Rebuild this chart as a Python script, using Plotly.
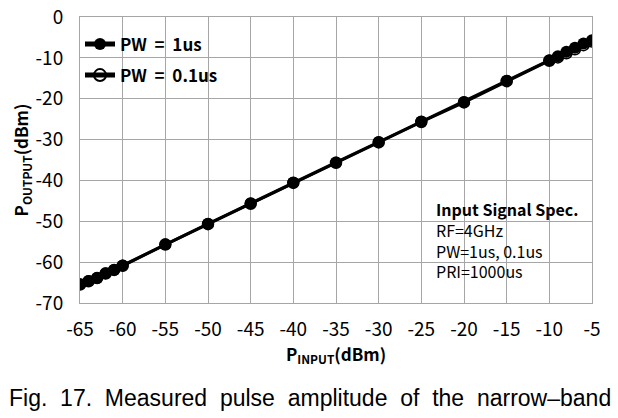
import plotly.graph_objects as go

p_input = [-65, -64, -63, -62, -61, -60, -55, -50, -45, -40, -35, -30, -25, -20, -15, -10, -9, -8, -7, -6, -5]
pout_1us = [-65.4, -64.6, -63.9, -62.7, -61.9, -60.8, -55.6, -50.6, -45.6, -40.5, -35.6, -30.6, -25.6, -20.8, -15.6, -10.6, -9.6, -8.5, -7.5, -6.5, -5.7]
pout_01us = [-65.5, -64.7, -63.9, -62.8, -61.9, -60.9, -55.7, -50.7, -45.7, -40.6, -35.7, -30.7, -25.7, -20.9, -15.7, -10.7, -9.9, -8.9, -7.9, -6.9, -6.0]

x_ticks = list(range(-65, 0, 5))
y_ticks = list(range(-70, 1, 10))

FONT = "Noto Sans CJK KR"
GRID = "#a6a6a6"

fig = go.Figure()
fig.add_trace(go.Scatter(
    x=p_input, y=pout_01us, mode="lines+markers", name="PW  =  0.1us",
    line=dict(color="black", width=3),
    marker=dict(symbol="circle-open", size=11, color="black", line=dict(width=1.5)),
    legendrank=2, legendgroup="b",
))
fig.add_trace(go.Scatter(
    x=p_input, y=pout_1us, mode="lines+markers", name="PW  =  1us",
    line=dict(color="black", width=3),
    marker=dict(symbol="circle", size=12, color="black"),
    legendrank=1, legendgroup="a",
))

fig.update_layout(
    width=618, height=418,
    margin=dict(l=80, r=26, t=17, b=115, autoexpand=False),
    plot_bgcolor="white", paper_bgcolor="white",
    font=dict(family=FONT, size=19, color="black"),
    showlegend=True,
    legend=dict(x=0.0, y=0.967, xanchor="left", yanchor="top",
                bgcolor="rgba(0,0,0,0)", font=dict(size=17, family=FONT, weight="bold"),
                tracegroupgap=6, itemwidth=30, itemsizing="constant"),
    xaxis=dict(range=[-65, -5], tickvals=x_ticks, ticktext=[str(v) for v in x_ticks],
               showgrid=True, gridcolor=GRID, gridwidth=1,
               showline=True, linecolor=GRID, linewidth=1, mirror=True,
               ticks="outside", ticklen=9, tickcolor="rgba(0,0,0,0)",
               zeroline=False, automargin=False, ticklabeloverflow="allow",
               title=dict(text="<b>P<sub>INPUT</sub>(dBm)</b>", font=dict(size=17), standoff=0)),
    yaxis=dict(range=[-70, 0], tickvals=y_ticks, ticktext=[str(v) for v in y_ticks],
               showgrid=True, gridcolor=GRID, gridwidth=1,
               showline=True, linecolor=GRID, linewidth=1, mirror=True,
               ticks="outside", ticklen=12, tickcolor="rgba(0,0,0,0)",
               zeroline=False, automargin=False, ticklabeloverflow="allow",
               title=dict(text="<b>P<sub>OUTPUT</sub>(dBm)</b>", font=dict(size=17), standoff=2)),
)

fig.add_annotation(
    x=0.691, y=0.379, xref="paper", yref="paper", xanchor="left", yanchor="top",
    align="left", showarrow=False,
    text="<b>Input Signal Spec.</b><br>RF=4GHz<br>PW=1us, 0.1us<br>PRI=1000us",
    font=dict(size=16, family=FONT),
)

fig.add_annotation(
    x=0.450, y=-0.332, xref="paper", yref="paper", yanchor="middle", xanchor="center",
    showarrow=False,
    text="Fig.\u00a0 17.\u00a0 Measured\u00a0 pulse\u00a0 amplitude\u00a0 of\u00a0 the\u00a0 narrow\u2013band",
    font=dict(size=23, family="Liberation Sans"),
)

fig.write_html(
    "out.html",
    config={"displayModeBar": False},
    post_script="document.body.style.margin='0';document.body.style.overflow='hidden';",
)
